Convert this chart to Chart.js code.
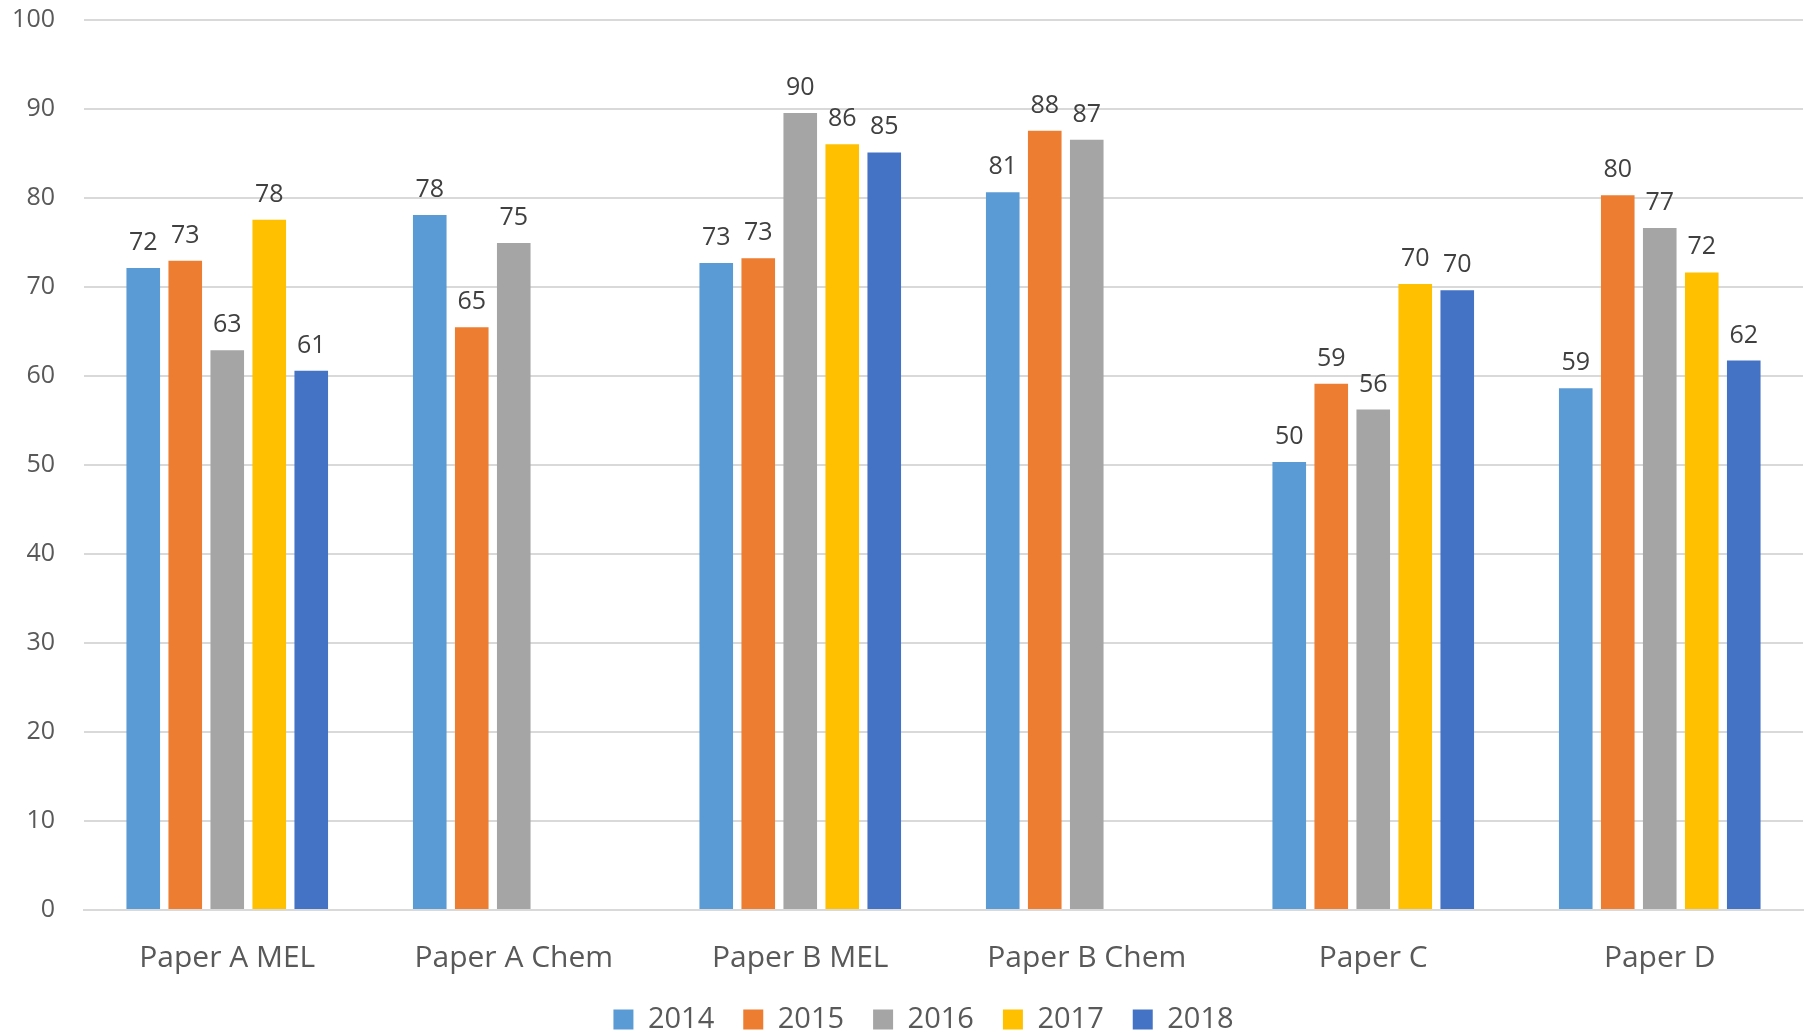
<!DOCTYPE html>
<html>
<head>
<meta charset="utf-8">
<title>Paper results 2014-2018</title>
<script src="https://cdn.jsdelivr.net/npm/chart.js@4.4.1/dist/chart.umd.min.js"></script>
<style>
    html, body { margin: 0; padding: 0; background: #fff; overflow: hidden; }
    #wrap { width: 1812px; height: 1044px; }
</style>
</head>
<body>
<div id="wrap"><canvas id="paperChart" width="1812" height="1044"></canvas></div>
<script>
// chart data
var categories = ['Paper A MEL', 'Paper A Chem', 'Paper B MEL', 'Paper B Chem', 'Paper C', 'Paper D'];
var years = ['2014', '2015', '2016', '2017', '2018'];
var scores2014 = [72.1, 78.05, 72.65, 80.6, 50.3, 58.6];
var scores2015 = [72.9, 65.45, 73.2, 87.5, 59.1, 80.25];
var scores2016 = [62.85, 74.9, 89.5, 86.5, 56.2, 76.6];
var scores2017 = [77.5, null, 86.0, null, 70.3, 71.6];
var scores2018 = [60.55, null, 85.07, null, 69.6, 61.7];
var yTicks = [0, 10, 20, 30, 40, 50, 60, 70, 80, 90, 100];

var colors = ['#5B9BD5', '#ED7D31', '#A5A5A5', '#FFC000', '#4472C4'];
var fontFamily = '"Open Sans", "Noto Sans", sans-serif';

var series = [scores2014, scores2015, scores2016, scores2017, scores2018];
var datasets = [];
series.forEach(function (values, i) {
    datasets.push({
        label: years[i],
        data: values,
        backgroundColor: colors[i],
        borderWidth: 0,
        categoryPercentage: 0.733,
        barPercentage: 0.8
    });
});

/**
 * draws the rounded value above every bar
 */
var valueLabels = {
    id: 'valueLabels',
    afterDatasetsDraw: function (chart) {
        var ctx = chart.ctx;
        ctx.save();
        ctx.font = '25px ' + fontFamily;
        ctx.fillStyle = '#404040';
        ctx.textAlign = 'center';
        ctx.textBaseline = 'alphabetic';
        chart.data.datasets.forEach(function (ds, i) {
            var meta = chart.getDatasetMeta(i);
            meta.data.forEach(function (bar, j) {
                var v = ds.data[j];
                if (v === null || v === undefined) return;
                ctx.fillText(String(Math.round(v)), bar.x, bar.y - 18);
            });
        });
        ctx.restore();
    }
};

/**
 * legend in the original sits a bit right of the canvas centre
 */
var legendShift = {
    id: 'legendShift',
    afterLayout: function (chart) {
        chart.legend.left += 32;
    }
};

var ctx = document.getElementById('paperChart');
var paperChart = new Chart(ctx, {
    type: 'bar',
    data: {
        labels: categories,
        datasets: datasets
    },
    options: {
        responsive: false,
        animation: false,
        layout: { padding: { top: 19.5, right: 9, left: 12, bottom: 0 } },
        plugins: {
            tooltip: { enabled: false },
            legend: {
                position: 'bottom',
                labels: {
                    boxWidth: 20,
                    boxHeight: 20,
                    padding: 29,
                    color: '#595959',
                    font: { family: fontFamily, size: 29 }
                }
            }
        },
        scales: {
            x: {
                afterFit: function (scale) {
                    scale.height = 66;
                },
                grid: { display: false, drawTicks: false },
                border: { display: true, color: '#D9D9D9', width: 2 },
                ticks: {
                    padding: 30,
                    color: '#595959',
                    font: { family: fontFamily, size: 30 }
                }
            },
            y: {
                min: 0,
                max: 100,
                afterBuildTicks: function (scale) {
                    scale.ticks = yTicks.map(function (v) { return { value: v }; });
                },
                afterFit: function (scale) {
                    // keep the plot edge at 84px and no extra top gap
                    scale.width = 72;
                    scale.paddingTop = 0;
                    scale.paddingBottom = 0;
                },
                grid: { color: '#D9D9D9', lineWidth: 2, drawTicks: false },
                border: { display: false },
                ticks: {
                    padding: 29,
                    color: '#595959',
                    font: { family: fontFamily, size: 25 }
                }
            }
        }
    },
    plugins: [valueLabels, legendShift]
});
</script>
</body>
</html>
